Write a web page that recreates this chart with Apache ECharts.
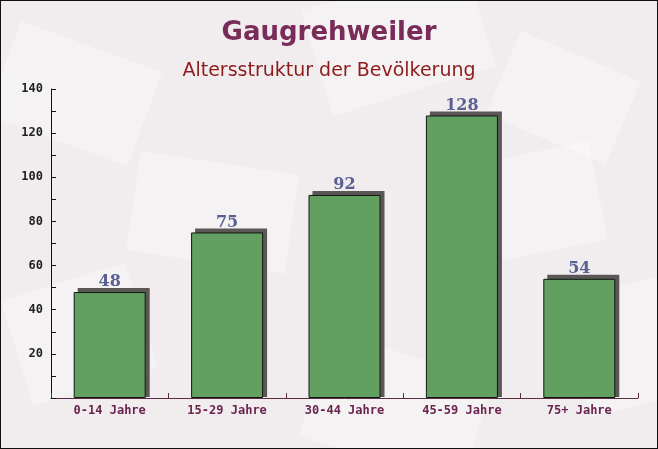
<!DOCTYPE html>
<html>
<head>
<meta charset="utf-8">
<script src="https://cdn.jsdelivr.net/npm/echarts@6/dist/echarts.min.js"></script>
<style>
html,body{margin:0;padding:0;}
#c{width:656px;height:447px;border:1px solid #111;background:#f1edee;}
</style>
</head>
<body>
<div id="c"></div>
<script>
const categories = ['0-14 Jahre', '15-29 Jahre', '30-44 Jahre', '45-59 Jahre', '75+ Jahre'];
const values = [48, 75, 92, 128, 54];
const titleText = 'Gaugrehweiler';
const subtitleText = 'Altersstruktur der Bevölkerung';

const BAR_W = 72;
const chart = echarts.init(document.getElementById('c'));
const bgRects = [
  {x: 20, y: 20, w: 150, h: 100, r: -0.35},
  {x: 300, y: 10, w: 170, h: 110, r: 0.3},
  {x: 520, y: 30, w: 130, h: 90, r: -0.4},
  {x: 140, y: 150, w: 160, h: 100, r: -0.15},
  {x: 440, y: 170, w: 150, h: 100, r: 0.2},
  {x: 0, y: 300, w: 130, h: 110, r: 0.3},
  {x: 330, y: 330, w: 170, h: 110, r: -0.3},
  {x: 560, y: 300, w: 110, h: 120, r: 0.25}
];
chart.setOption({
  backgroundColor: '#f1edee',
  animation: false,
  graphic: bgRects.map(b => ({
    type: 'rect', x: b.x, y: b.y, rotation: b.r, z: -10, silent: true,
    shape: {width: b.w, height: b.h},
    style: {fill: 'rgba(255,255,255,0.3)'}
  })),
  title: [
    {text: titleText, left: 'center', top: 14,
     textStyle: {fontFamily: 'DejaVu Sans', fontWeight: 'bold', fontSize: 26, color: '#7a2c58'}},
    {text: subtitleText, left: 'center', top: 56,
     textStyle: {fontFamily: 'DejaVu Sans', fontWeight: 'normal', fontSize: 19, color: '#8e1b1b'}}
  ],
  grid: {left: 50, right: 19, top: 88, bottom: 50, containLabel: false},
  xAxis: {
    type: 'category', data: categories,
    axisLine: {lineStyle: {color: '#5e2a44', width: 1}},
    axisTick: {show: true, inside: true, length: 5, alignWithLabel: false, lineStyle: {color: '#5e2a44'}},
    axisLabel: {fontFamily: 'DejaVu Sans Mono', fontWeight: 'bold', fontSize: 12, color: '#6a2450', margin: 7}
  },
  yAxis: {
    type: 'value', min: 0, max: 140, interval: 20,
    axisLine: {show: true, lineStyle: {color: '#111', width: 1}},
    axisTick: {show: true, inside: true, length: 5, lineStyle: {color: '#111'}},
    minorTick: {show: true, splitNumber: 2, length: 5, lineStyle: {color: '#111'}},
    splitLine: {show: false},
    axisLabel: {fontFamily: 'DejaVu Sans Mono', fontWeight: 'bold', fontSize: 12, color: '#222', margin: 8,
      formatter: v => v === 0 ? '' : String(v)}
  },
  series: [{
    type: 'custom', z: 1, silent: true,
    data: values.map((v, i) => [i, v]),
    encode: {x: 0, y: 1},
    renderItem: function (params, api) {
      const top = api.coord([api.value(0), api.value(1)]);
      const base = api.coord([api.value(0), 0]);
      const x = top[0] - BAR_W / 2;
      return {
        type: 'rect',
        shape: {x: x + 4, y: top[1] - 4, width: BAR_W, height: base[1] - top[1] + 3},
        style: {fill: '#5b5757'}
      };
    }
  }, {
    type: 'bar', data: values, barWidth: BAR_W, z: 2,
    itemStyle: {color: '#62a062', borderColor: '#111811', borderWidth: 1},
    label: {show: true, position: 'top', distance: 2,
      fontFamily: 'DejaVu Serif', fontWeight: 'bold', fontSize: 16, color: '#5a6192'}
  }]
});
</script>
</body>
</html>
